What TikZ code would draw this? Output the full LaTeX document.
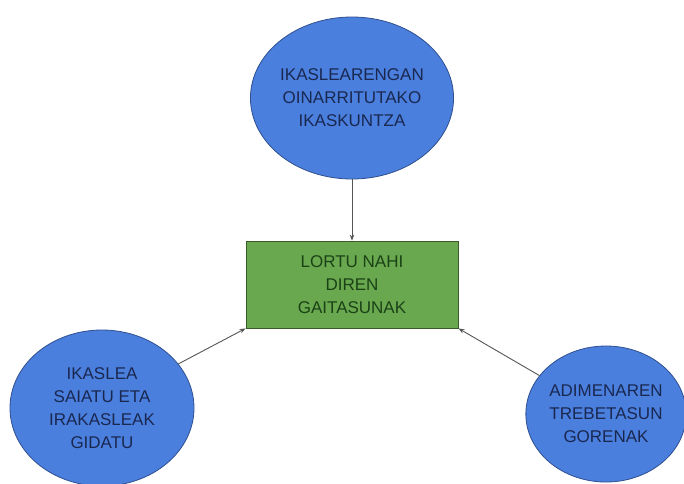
\documentclass[tikz,border=0pt]{standalone}
\usepackage{fontspec}
\setmainfont{Liberation Sans}
\usetikzlibrary{shapes.geometric,arrows.meta}
\definecolor{blobfill}{HTML}{4A7FDE}
\definecolor{blobline}{HTML}{2F4F8F}
\definecolor{blobtext}{HTML}{1A2850}
\definecolor{boxfill}{HTML}{6AA84F}
\definecolor{boxline}{HTML}{3A5A2A}
\definecolor{boxtext}{HTML}{1A4216}
\definecolor{linkcol}{HTML}{555555}
\begin{document}
\begin{tikzpicture}[x=1pt,y=-1pt,
  blob/.style={ellipse, draw=blobline, line width=0.8pt, fill=blobfill, text=blobtext,
    inner sep=0pt, align=center, font=\fontsize{17}{23}\selectfont},
  goalbox/.style={rectangle, draw=boxline, line width=0.8pt, fill=boxfill, text=boxtext,
    inner sep=0pt, align=center, font=\fontsize{17}{23}\selectfont},
  link/.style={draw=linkcol, line width=0.9pt, -{Stealth[length=6pt,width=4.5pt]}}]
\useasboundingbox (0,0) rectangle (684,483);
\clip (0,0) rectangle (684,483);
\fill[white] (0,0) rectangle (684,483);
\node[goalbox, minimum width=212pt, minimum height=87pt] (goal) at (352,284.5)
  {LORTU NAHI\\DIREN\\GAITASUNAK};
\node[blob, minimum width=186pt, minimum height=162pt] (top) at (352,98)
  {IKASLEARENGAN\\OINARRITUTAKO\\IKASKUNTZA};
\node[blob, minimum width=184pt, minimum height=156pt] (left) at (102,408)
  {IKASLEA\\SAIATU ETA\\IRAKASLEAK\\GIDATU};
\node[blob, minimum width=156pt, minimum height=136pt] (right) at (606,414)
  {ADIMENAREN\\TREBETASUN\\GORENAK};
\draw[link] (top.south) -- (goal.north);
\draw[link] (left.30) -- (goal.south west);
\draw[link] (right.150) -- (goal.south east);
\end{tikzpicture}
\end{document}
